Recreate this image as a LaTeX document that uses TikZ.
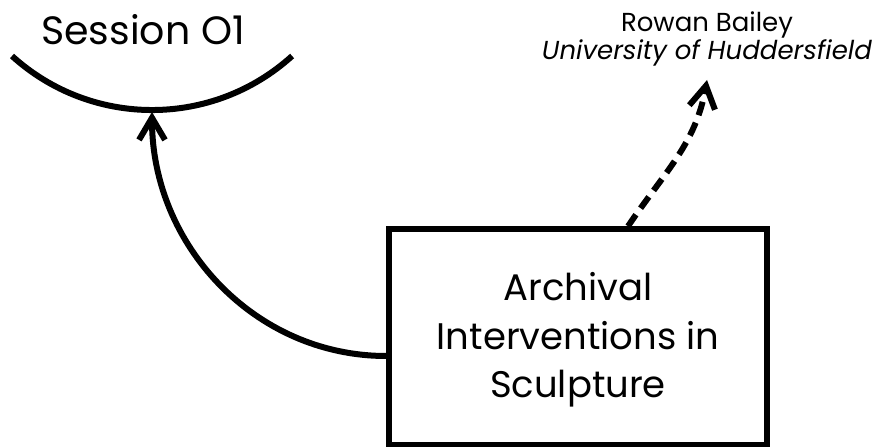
\documentclass[tikz,border=0pt]{standalone}
\usepackage{fontspec}
\setmainfont{Poppins}
\usepackage{tikz}
\usetikzlibrary{positioning,arrows.meta,calc}
\tikzset{
  box/.style={draw, line width=5.5pt, minimum width=378pt, minimum height=216pt},
  boxtext/.style={align=center, font=\fontsize{37}{48.5}\selectfont},
  title/.style={font=\fontsize{39.5}{44}\selectfont},
  author/.style={align=center, font=\fontsize{26}{26}\selectfont},
  arrow/.style={-{Straight Barb[length=22pt,width=26pt,line width=6pt]}, line width=6pt},
  dasharrow/.style={arrow, dash pattern=on 14pt off 8pt},
}
\begin{document}
\begin{tikzpicture}[x=1pt,y=1pt]
  \useasboundingbox (0,0) rectangle (881,447);
  \node[title]                     (sess)   at (143,417.5) {Session O1};
  \coordinate                      (sessb)  at (152,335);
  \node[box]                       (box)    at (578,110) {};
  \node[boxtext]                   (topic)  at ([yshift=-3]box.center) {Archival\\Interventions in\\Sculpture};
  \node[author]                    (auth)   at (707,408) {Rowan Bailey\\\textit{University of Huddersfield}};
  \coordinate                      (authb)  at (707,367);
  % session arc
  \draw[line width=6pt] (12,391) arc[start angle=227.8, end angle=312.2, radius=208.5];
  \draw[arrow] ([yshift=-19]box.west) to[out=180, in=-90] (sessb);
  \draw[dasharrow] (box.north -| 628,0) to[out=56, in=-100] (authb);
\end{tikzpicture}
\end{document}
